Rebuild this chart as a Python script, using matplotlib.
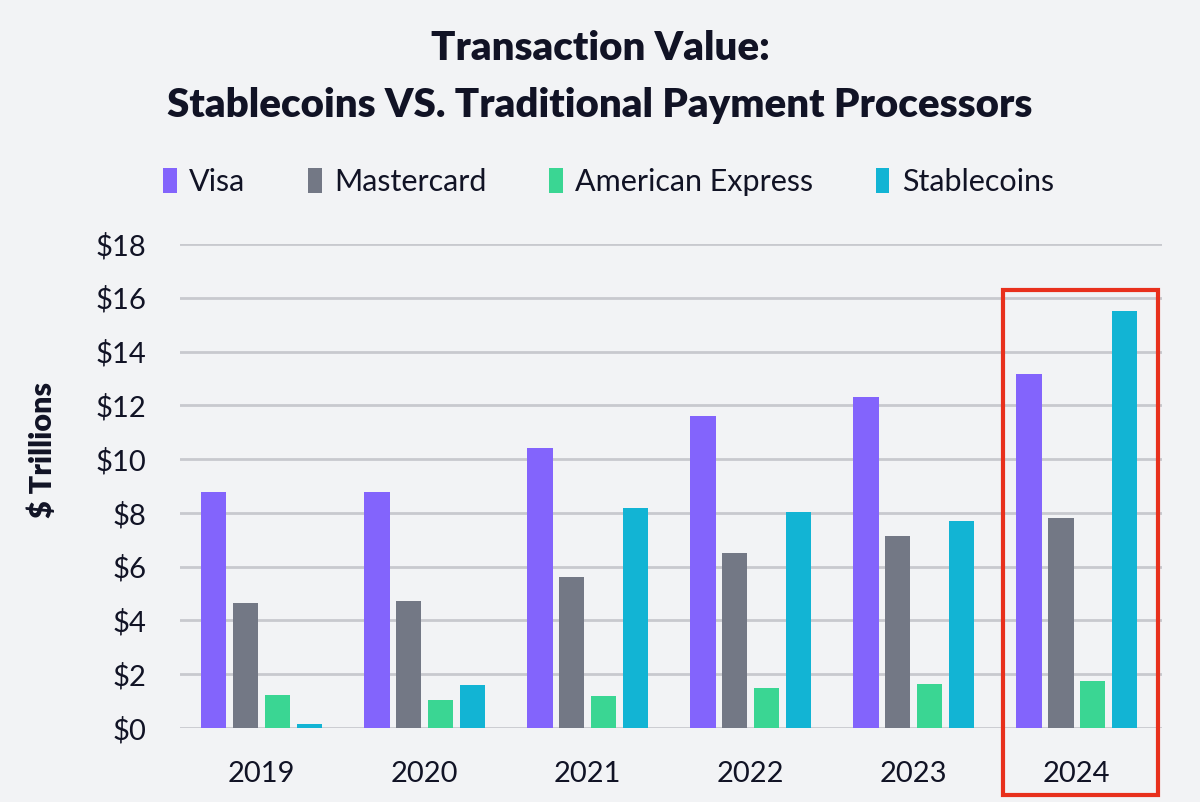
import matplotlib.pyplot as plt
from matplotlib.patches import Rectangle
import numpy as np

years = ['2019', '2020', '2021', '2022', '2023', '2024']
visa = [8.77, 8.77, 10.4, 11.6, 12.3, 13.16]
mastercard = [4.63, 4.71, 5.63, 6.5, 7.14, 7.81]
amex = [1.23, 1.05, 1.2, 1.5, 1.65, 1.73]
stablecoins = [0.13, 1.58, 8.17, 8.05, 7.7, 15.49]

series = [('Visa', visa, '#8364FC'),
          ('Mastercard', mastercard, '#737885'),
          ('American Express', amex, '#3AD693'),
          ('Stablecoins', stablecoins, '#12B4D4')]

bg = '#F2F3F5'
ink = '#111325'
plt.rcParams['font.family'] = ['Lato', 'DejaVu Sans']

fig = plt.figure(figsize=(12, 8.02), dpi=100, facecolor=bg)
ax = fig.add_axes([0.15, 0.0923, 0.818, 0.6035], facecolor=bg)

x = np.arange(len(years))
width = 0.155
step = 0.195
for i, (name, vals, col) in enumerate(series):
    ax.bar(x + (i - 1.5) * step, vals, width, color=col, label=name, zorder=3)

ax.set_xlim(-0.5, len(years) - 0.48)
ax.set_ylim(0, 18)
ax.set_yticks(np.arange(0, 19, 2))
ax.set_yticklabels(['$%d' % v for v in range(0, 19, 2)])
ax.set_xticks(x)
ax.set_xticklabels(years)
ax.grid(axis='y', color='#C8C9CE', linewidth=2, zorder=0)
for s in ax.spines.values():
    s.set_visible(False)
ax.tick_params(axis='both', length=0, labelsize=21, colors=ink)
ax.tick_params(axis='y', pad=24)
ax.tick_params(axis='x', pad=24)

ax.set_ylabel('$ Trillions', fontsize=22, fontweight='heavy', color=ink)
ax.yaxis.set_label_coords(-0.125, 0.574)

# highlight box around the latest year
last = len(years) - 1
box = Rectangle((last - 0.455, -2.5), 0.955, 18.8, fill=False,
                edgecolor='#E8301C', linewidth=3, clip_on=False, zorder=5)
ax.add_patch(box)

fig.text(0.5, 0.94, 'Transaction Value:', ha='center', va='center',
         fontsize=29, fontweight='heavy', color=ink)
fig.text(0.5, 0.869, 'Stablecoins VS. Traditional Payment Processors',
         ha='center', va='center', fontsize=29, fontweight='heavy', color=ink)

fig.legend(loc='center', bbox_to_anchor=(0.507, 0.773), ncol=4, frameon=False,
           fontsize=22, handlelength=0.45, handleheight=0.9, handletextpad=0.4,
           columnspacing=2.05, labelcolor=ink)

fig.savefig('out.png', dpi=100, facecolor=bg)
